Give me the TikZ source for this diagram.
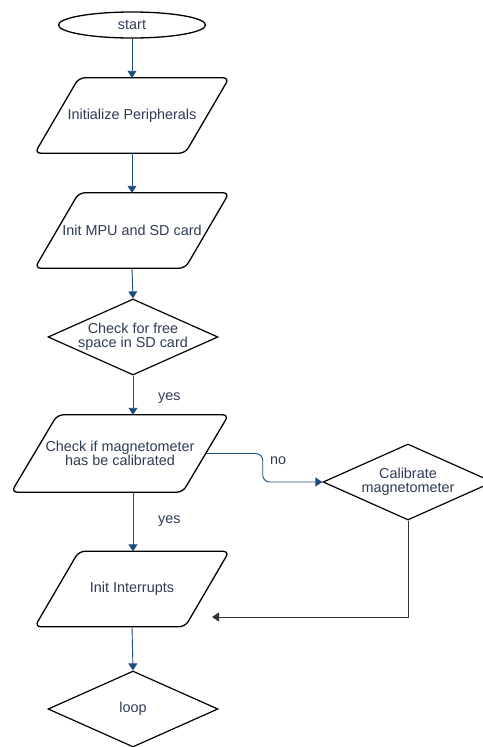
\documentclass[tikz,border=0pt]{standalone}
\usepackage{fontspec}
\setmainfont{Liberation Sans}
\usetikzlibrary{shapes.geometric,arrows.meta,calc}
\definecolor{txtc}{HTML}{2E3B55}
\definecolor{arrc}{HTML}{1F4A7C}
\tikzset{
  txt/.style={text=txtc, font=\fontsize{14.4}{13.5}\selectfont, align=center},
  para/.style={rectangle, minimum height=75pt, minimum width=150pt, inner sep=0pt, txt},
  pshape/.style={draw=black, line width=1.3pt, rounded corners=6pt},
  dia/.style={diamond, draw=black, line width=1.2pt, minimum width=170pt,
    minimum height=76pt, inner sep=0pt},
  term/.style={ellipse, draw=black, line width=1.3pt, minimum width=147pt,
    minimum height=26pt, inner sep=0pt, txt},
  arr/.style={draw=arrc, line width=0.9pt, -{Triangle[length=7pt,width=9pt]}},
  barr/.style={draw=black!80, line width=0.9pt, -{Triangle[length=7pt,width=9pt]}},
  lbl/.style={txt, inner sep=0pt, anchor=west}
}
\newcommand\drawpara[2]{%
  \draw[pshape] (#1.north) -- ($(#1.north east)+(#2/2,0)$) -- ($(#1.south east)-(#2/2,0)$)
    -- ($(#1.south west)-(#2/2,0)$) -- ($(#1.north west)+(#2/2,0)$) -- cycle;}
\begin{document}
\begin{tikzpicture}[x=1pt,y=-1pt]
\useasboundingbox (0,0) rectangle (482,747);
\node[term] (start) at (132,25) {start};
\node[para] (p1) at (132,115.5) {Initialize Peripherals};
\node[para] (p2) at (132,230.5) {Init MPU and SD card};
\node[dia] (d1) at (133,337) {};
\node[txt] (d1t) at (d1.center) {Check for free\\space in SD card};
\node[para, minimum width=171pt, minimum height=77pt] (p3) at (120,453.5) {Check if magnetometer\\has be calibrated};
\node[dia] (cal) at (408,482) {};
\node[txt] (calt) at (cal.center) {Calibrate\\magnetometer};
\node[para] (p4) at (132,589) {Init Interrupts};
\node[dia] (loop) at (133,709) {};
\node[txt] (loopt) at (loop.center) {loop};
\coordinate (p4in) at (212,617);

\drawpara{p1}{44}
\drawpara{p2}{44}
\drawpara{p3}{46}
\drawpara{p4}{44}

\draw[arr] (start.south) -- (p1.north);
\draw[arr] (p1.south) -- (p2.north);
\draw[arr] (p2.south) -- (d1.north);
\draw[arr] (d1.south) -- (d1.south |- p3.north);
\draw[arr] (d1.south |- p3.south) -- (d1.south |- p4.north);
\draw[arr, rounded corners=7pt] (p3.east) -- ++(57,0) |- (cal.west);
\draw[barr] (cal.south) |- (p4in);
\draw[arr] (p4.south) -- (loop.north);

\node[lbl] (yes1) at (158,398) {yes};
\node[lbl] (yes2) at (158,521) {yes};
\node[lbl] (no) at (270,461) {no};
\end{tikzpicture}
\end{document}
